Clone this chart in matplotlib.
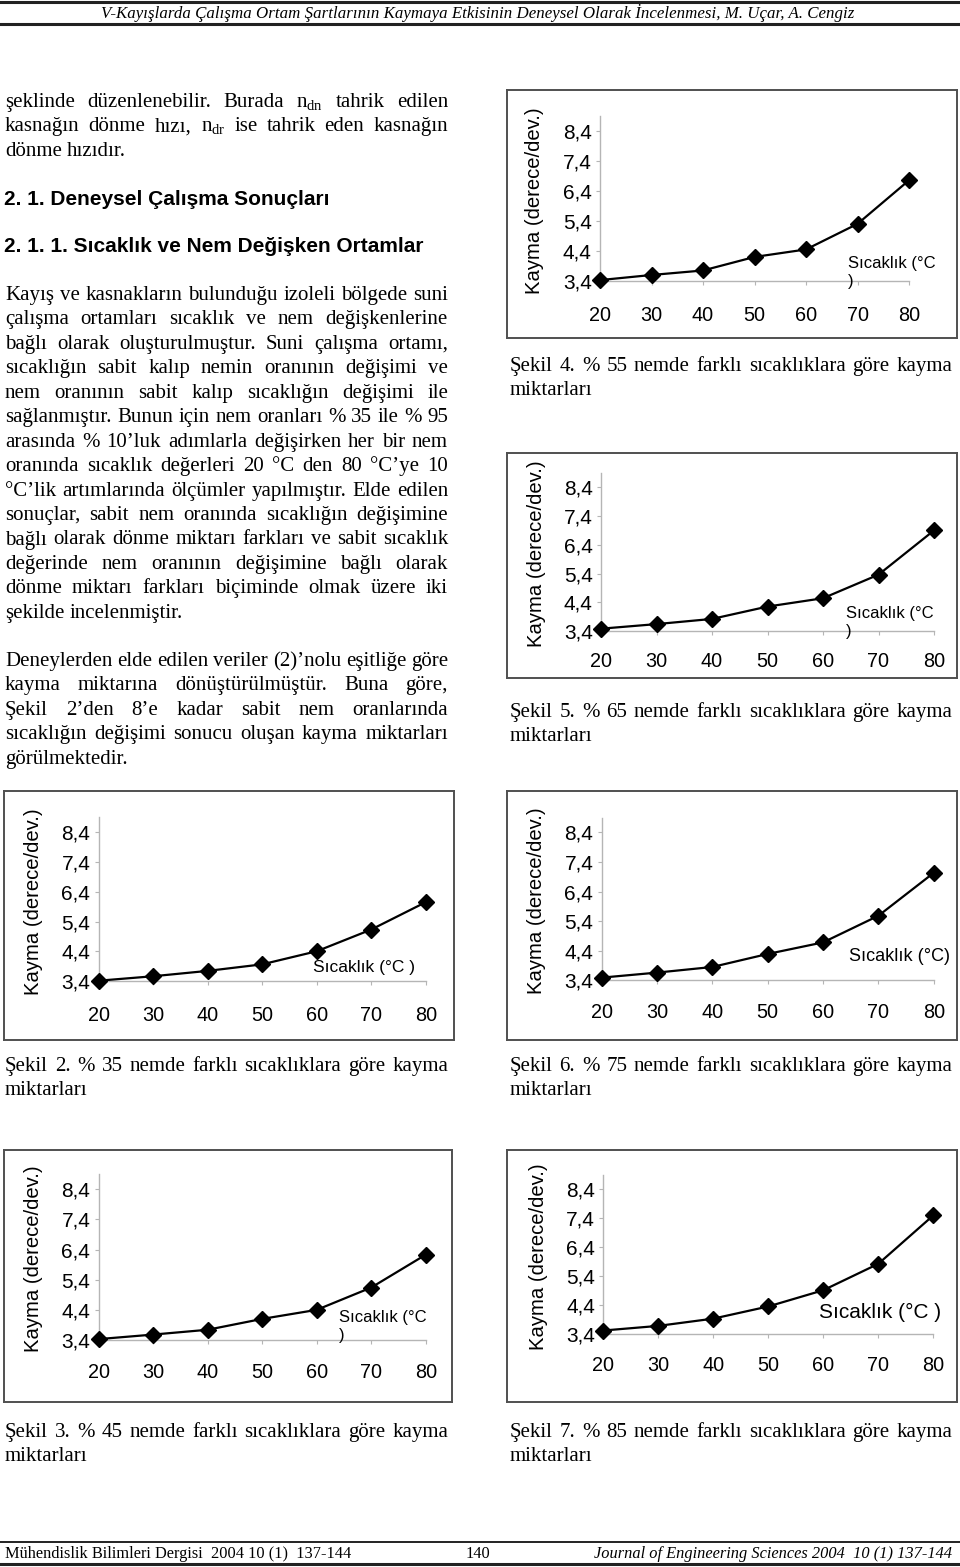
import matplotlib
matplotlib.use('Agg')
import matplotlib.pyplot as plt
from matplotlib.lines import Line2D

W, H = 960, 1567

## data (kayma vs sicaklik)
sicaklik = [20, 30, 40, 50, 60, 70, 80]
nem35 = [3.41, 3.56, 3.74, 3.96, 4.40, 5.13, 6.05]
nem45 = [3.43, 3.58, 3.74, 4.10, 4.40, 5.14, 6.23]
nem55 = [3.43, 3.60, 3.75, 4.20, 4.45, 5.30, 6.75]
nem65 = [3.48, 3.64, 3.82, 4.25, 4.54, 5.36, 6.90]
nem75 = [3.49, 3.66, 3.85, 4.29, 4.68, 5.58, 7.03]
nem85 = [3.53, 3.69, 3.94, 4.36, 4.92, 5.83, 7.50]
ytick_vals = [3.4, 4.4, 5.4, 6.4, 7.4, 8.4]
ytick_labels = ['3,4', '4,4', '5,4', '6,4', '7,4', '8,4']
ylabel_txt = 'Kayma (derece/dev.)'

header_txt = 'V-Kayışlarda Çalışma Ortam Şartlarının Kaymaya Etkisinin Deneysel Olarak İncelenmesi, M. Uçar, A. Cengiz'
footer_left = 'Mühendislik Bilimleri Dergisi  2004 10 (1)  137-144'
footer_mid = '140'
footer_right = 'Journal of Engineering Sciences 2004  10 (1) 137-144'

para1 = ['şeklinde düzenlenebilir. Burada n$_{\\mathrm{dn}}$ tahrik edilen',
         'kasnağın dönme hızı, n$_{\\mathrm{dr}}$ ise tahrik eden kasnağın',
         'dönme hızıdır.']
head1 = '2. 1. Deneysel Çalışma Sonuçları'
head2 = '2. 1. 1. Sıcaklık ve Nem Değişken Ortamlar'
para2 = ['Kayış ve kasnakların bulunduğu izoleli bölgede suni',
         'çalışma ortamları sıcaklık ve nem değişkenlerine',
         'bağlı olarak oluşturulmuştur. Suni çalışma ortamı,',
         'sıcaklığın sabit kalıp nemin oranının değişimi ve',
         'nem oranının sabit kalıp sıcaklığın değişimi ile',
         'sağlanmıştır. Bunun için nem oranları % 35 ile % 95',
         'arasında % 10’luk adımlarla değişirken her bir nem',
         'oranında  sıcaklık değerleri 20 °C den 80 °C’ye 10',
         '°C’lik artımlarında ölçümler yapılmıştır. Elde edilen',
         'sonuçlar, sabit nem oranında sıcaklığın değişimine',
         'bağlı olarak dönme miktarı farkları ve sabit sıcaklık',
         'değerinde nem oranının değişimine bağlı olarak',
         'dönme miktarı farkları biçiminde olmak üzere iki',
         'şekilde incelenmiştir.']
para3 = ['Deneylerden elde edilen veriler (2)’nolu eşitliğe göre',
         'kayma miktarına dönüştürülmüştür. Buna göre,',
         'Şekil 2’den 8’e kadar sabit nem oranlarında',
         'sıcaklığın değişimi sonucu oluşan kayma miktarları',
         'görülmektedir.']

plt.rcParams['mathtext.fontset'] = 'custom'
plt.rcParams['mathtext.rm'] = 'Liberation Serif'

fig = plt.figure(figsize=(W / 100, H / 100), dpi=100)
renderer = fig.canvas.get_renderer()

serif = dict(family='Liberation Serif', fontsize=15, color='black')

def fy(y):
    return 1 - y / H

def put_line(x0, x1, yc, line, justify=True, **kw):
    words = line.split()
    texts = [fig.text(0, 0, w, va='baseline', ha='left', **kw) for w in words]
    widths = [t.get_window_extent(renderer).width for t in texts]
    if justify and len(words) > 1:
        gap = (x1 - x0 - sum(widths)) / (len(words) - 1)
    else:
        t1 = fig.text(0, 0, 'a a', **kw)
        t2 = fig.text(0, 0, 'aa', **kw)
        gap = t1.get_window_extent(renderer).width - t2.get_window_extent(renderer).width
        t1.remove(); t2.remove()
    x = x0
    for t, w in zip(texts, widths):
        t.set_position((x / W, fy(yc + 6)))
        x += w + gap

def put_para(x0, x1, y0, lines, step=24.45, **kw):
    for i, ln in enumerate(lines):
        put_line(x0, x1, y0 + i * step, ln, justify=(i < len(lines) - 1), **kw)

## header / footer
fig.add_artist(Line2D([0, 1], [fy(2), fy(2)], color='#222222', lw=2.2))
fig.add_artist(Line2D([0, 1], [fy(24), fy(24)], color='#222222', lw=2.2))
fig.text(478 / W, fy(13), header_txt, ha='center', va='center',
         family='Liberation Serif', style='italic', fontsize=12.2)
fig.add_artist(Line2D([0, 1], [fy(1542), fy(1542)], color='#222222', lw=1.4))
fig.add_artist(Line2D([0, 1], [fy(1564), fy(1564)], color='#222222', lw=2.2))
fig.text(5 / W, fy(1554), footer_left, ha='left', va='center',
         family='Liberation Serif', fontsize=11.8)
fig.text(478 / W, fy(1554), footer_mid, ha='center', va='center',
         family='Liberation Serif', fontsize=11.8)
fig.text(952 / W, fy(1554), footer_right, ha='right', va='center',
         family='Liberation Serif', style='italic', fontsize=11.8)

## body text
put_para(5, 448, 101, para1, **serif)
fig.text(4 / W, fy(199 + 6), head1, ha='left', va='baseline',
         family='Liberation Sans', weight='bold', fontsize=15)
fig.text(4 / W, fy(246 + 6), head2, ha='left', va='baseline',
         family='Liberation Sans', weight='bold', fontsize=15)
put_para(5, 448, 294, para2, **serif)
put_para(5, 448, 660, para3, **serif)

## charts
def chart(box, axpx, data, xgap, lab, lab_xy, lab_fs):
    l, t, r, b = box
    bax = fig.add_axes([l / W, fy(b), (r - l) / W, (b - t) / H])
    bax.set_xticks([]); bax.set_yticks([])
    bax.set_xlim(0, 1); bax.set_ylim(0, 1)
    for s in bax.spines.values():
        s.set_color('#505050'); s.set_linewidth(1.4)
    x0, x80, y34, y84 = axpx
    ppu = (y34 - y84) / 5.0
    ytop = y34 - 5.5 * ppu
    ax = fig.add_axes([x0 / W, fy(y34), (x80 - x0) / W, (y34 - ytop) / H])
    ax.patch.set_alpha(0)
    ax.plot(sicaklik, data, color='black', lw=1.6, marker='D', ms=8.5, clip_on=False, zorder=5)
    ax.set_xlim(20, 80); ax.set_ylim(3.4, 8.9)
    ax.set_xticks(sicaklik)
    ax.set_yticks(ytick_vals)
    ax.set_yticklabels(ytick_labels)
    for s in ['top', 'right']:
        ax.spines[s].set_visible(False)
    for s in ['left', 'bottom']:
        ax.spines[s].set_color('#b5b5b5'); ax.spines[s].set_linewidth(1.0)
    ax.tick_params(axis='both', color='#b5b5b5', length=3, width=0.8)
    ax.tick_params(axis='x', pad=(xgap - 7 - 4) * 0.72, labelsize=14.3)
    ax.tick_params(axis='y', pad=3, labelsize=15)
    for tl in ax.get_xticklabels() + ax.get_yticklabels():
        tl.set_family('Liberation Sans')
    bax.text((x0 - 65) / W, fy((y34 + ytop) / 2 + 2), ylabel_txt, transform=fig.transFigure,
             rotation=90, ha='center', va='center', family='Liberation Sans',
             fontsize=14.6, clip_on=True)
    fig.text(lab_xy[0] / W, fy(lab_xy[1]), lab, ha='left', va='top',
             family='Liberation Sans', fontsize=lab_fs, linespacing=1.25)

chart((507, 90, 957, 338), (600, 909, 281, 130.7), nem55, 32,
      'Sıcaklık (°C\n)', (848, 256), 12)
chart((507, 453, 957, 678), (601, 934, 631, 487.3), nem65, 28,
      'Sıcaklık (°C\n)', (846, 606), 12)
chart((4, 791, 454, 1040), (98.7, 425.7, 981, 832.3), nem35, 31.7,
      'Sıcaklık (°C )', (313, 960), 12.5)
chart((507, 791, 957, 1040), (601.7, 933.7, 980.3, 832.3), nem75, 30,
      'Sıcaklık (°C)', (849, 948), 13)
chart((4, 1150, 452, 1402), (98.7, 425.7, 1340, 1189.3), nem45, 30,
      'Sıcaklık (°C\n)', (339, 1310), 12)
chart((507, 1150, 957, 1402), (603.3, 933.3, 1334.3, 1189.3), nem85, 29,
      'Sıcaklık (°C )', (819, 1303), 15)

## captions
captions = [((510, 952, 365), 'Şekil 4. % 55 nemde farklı sıcaklıklara göre kayma'),
            ((510, 952, 711), 'Şekil 5. % 65 nemde farklı sıcaklıklara göre kayma'),
            ((5, 448, 1065), 'Şekil 2. % 35 nemde farklı sıcaklıklara göre kayma'),
            ((510, 952, 1065), 'Şekil 6. % 75 nemde farklı sıcaklıklara göre kayma'),
            ((5, 448, 1431), 'Şekil 3. % 45 nemde farklı sıcaklıklara göre kayma'),
            ((510, 952, 1431), 'Şekil 7. % 85 nemde farklı sıcaklıklara göre kayma')]
for (cx0, cx1, cy), ctext in captions:
    put_para(cx0, cx1, cy, [ctext, 'miktarları'], **serif)

plt.savefig('out.png', dpi=100)
